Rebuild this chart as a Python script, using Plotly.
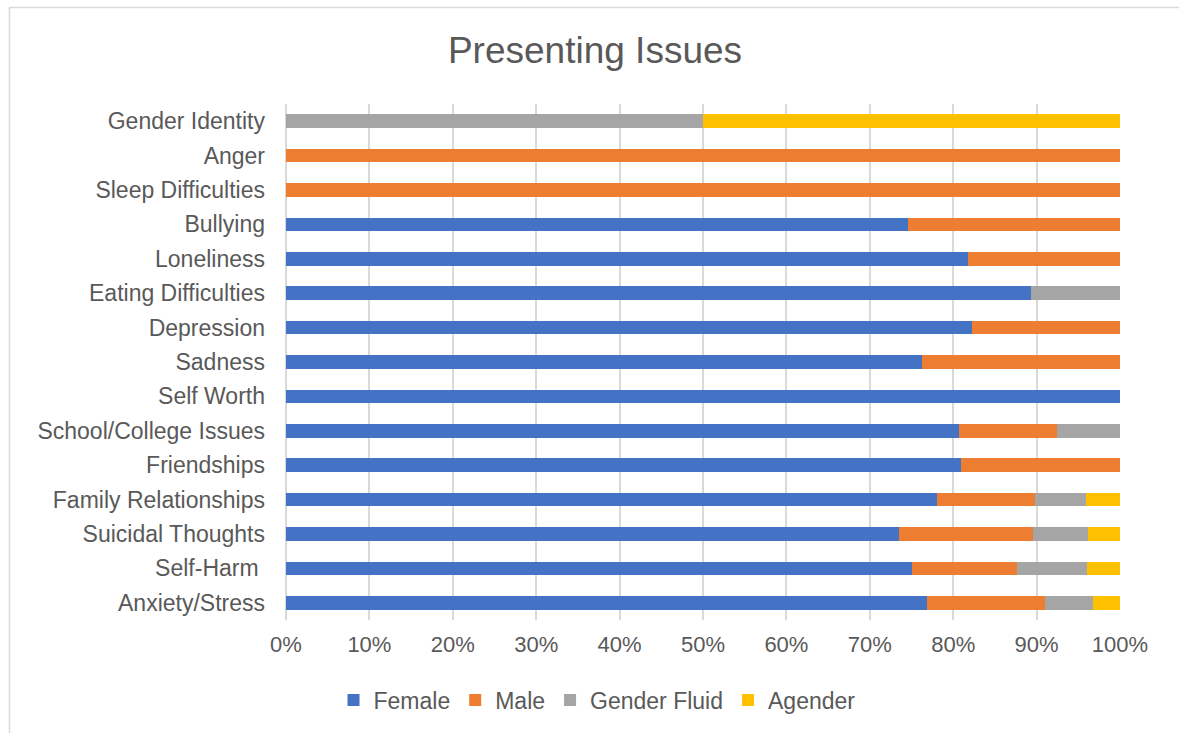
import plotly.graph_objects as go

# Presenting issues, listed bottom to top as they appear on the axis
categories = [
    "Anxiety/Stress", "Self-Harm ", "Suicidal Thoughts", "Family Relationships",
    "Friendships", "School/College Issues", "Self Worth", "Sadness",
    "Depression", "Eating Difficulties", "Loneliness", "Bullying",
    "Sleep Difficulties", "Anger", "Gender Identity",
]

# Share of each gender within every issue (percent)
female = [76.9, 75.0, 73.5, 78.0, 80.9, 80.7, 100.0, 76.3, 82.3, 89.3, 81.8, 74.6, 0, 0, 0]
male = [14.1, 12.6, 16.1, 11.8, 19.1, 11.8, 0, 23.7, 17.7, 0, 18.2, 25.4, 100.0, 100.0, 0]
gender_fluid = [5.8, 8.4, 6.6, 6.1, 0, 7.5, 0, 0, 0, 10.7, 0, 0, 0, 0, 50.0]
agender = [3.2, 4.0, 3.8, 4.1, 0, 0, 0, 0, 0, 0, 0, 0, 0, 0, 50.0]

x_ticks = [0, 10, 20, 30, 40, 50, 60, 70, 80, 90, 100]
x_tick_labels = ["0%", "10%", "20%", "30%", "40%", "50%", "60%", "70%", "80%", "90%", "100%"]

series = [
    ("Female", female, "#4472C4"),
    ("Male", male, "#ED7D31"),
    ("Gender Fluid", gender_fluid, "#A5A5A5"),
    ("Agender", agender, "#FFC000"),
]

FONT = "Liberation Sans, Arial, sans-serif"
TEXT = "#595959"

fig = go.Figure()
for name, vals, color in series:
    fig.add_trace(go.Bar(
        y=categories, x=vals, name=name, orientation="h",
        marker=dict(color=color, line=dict(width=0)),
    ))

W, H = 1179, 733
L, R, T, B = 286, 59, 104, 113
pw, ph = W - L - R, H - T - B

def px_x(p):
    return (p - L) / pw

def px_y(p):
    return (H - B - p) / ph

fig.update_layout(
    width=W, height=H,
    margin=dict(l=L, r=R, t=T, b=B),
    paper_bgcolor="white", plot_bgcolor="white",
    barmode="stack", bargap=0.6,
    font=dict(family=FONT, color=TEXT, size=23),
    title=dict(
        text="Presenting Issues", x=595 / W, xanchor="center",
        y=1 - 50 / H, yanchor="middle", yref="container",
        font=dict(size=37, color=TEXT, family=FONT),
    ),
    xaxis=dict(
        range=[0, 100], tickmode="array", tickvals=x_ticks, ticktext=x_tick_labels,
        showgrid=True, gridcolor="#D9D9D9", gridwidth=1.5,
        zeroline=True, zerolinecolor="#D9D9D9", zerolinewidth=1.5,
        showline=False, ticks="", ticklabelstandoff=9,
        tickfont=dict(size=22, color=TEXT), fixedrange=True,
    ),
    yaxis=dict(
        type="category", categoryorder="array", categoryarray=categories,
        showgrid=False, showline=False, ticks="", ticklabelstandoff=20,
        tickfont=dict(size=23, color=TEXT), fixedrange=True,
    ),
    legend=dict(
        orientation="h", x=px_x(597), xanchor="center",
        y=px_y(700), yanchor="middle",
        font=dict(size=23, color=TEXT), traceorder="normal",
        itemclick=False, itemdoubleclick=False,
    ),
    shapes=[dict(
        type="rect", xref="paper", yref="paper",
        x0=px_x(9.5), x1=px_x(1200), y0=px_y(760), y1=px_y(7.5),
        line=dict(color="#D9D9D9", width=1.5), fillcolor="rgba(0,0,0,0)",
        layer="below",
    )],
)

fig.write_html("out.html")
